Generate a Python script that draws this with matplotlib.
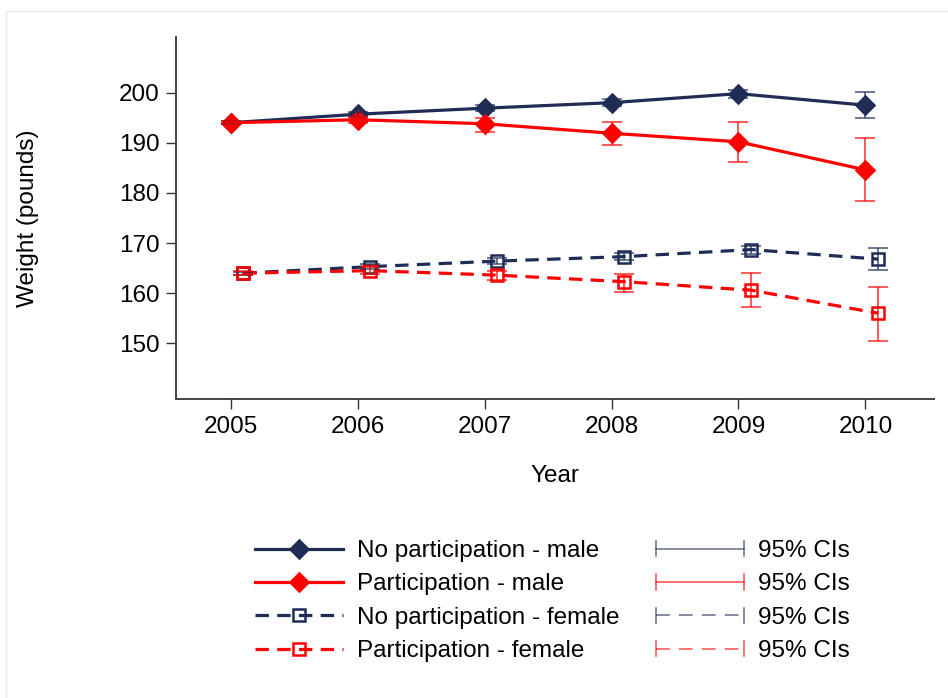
"""
Weight by year: participation vs no participation, male and female, with 95% CIs
"""

import numpy as np
import matplotlib
matplotlib.use("Agg")
import matplotlib.pyplot as plt
from matplotlib.lines import Line2D
from matplotlib.legend_handler import HandlerBase
from matplotlib.patches import Rectangle

# ======================================================
# 1. DATA
# ======================================================
years = [2005, 2006, 2007, 2008, 2009, 2010]
year_ticks = ["2005", "2006", "2007", "2008", "2009", "2010"]
weight_ticks = [150, 160, 170, 180, 190, 200]

male_no = [194.0, 195.7, 196.9, 198.0, 199.8, 197.5]
male_no_lo = [193.7, 195.2, 196.3, 197.3, 199.0, 194.9]
male_no_hi = [194.3, 196.2, 197.5, 198.7, 200.6, 200.1]

male_part = [194.0, 194.6, 193.8, 191.9, 190.2, 184.6]
male_part_lo = [193.7, 194.0, 192.2, 189.5, 186.2, 178.3]
male_part_hi = [194.3, 195.2, 195.0, 194.1, 194.2, 191.0]

female_no = [164.0, 165.3, 166.4, 167.3, 168.7, 166.8]
female_no_lo = [163.7, 164.8, 165.8, 166.6, 167.9, 164.7]
female_no_hi = [164.3, 165.8, 167.0, 168.0, 169.5, 169.1]

female_part = [164.0, 164.5, 163.6, 162.3, 160.6, 156.0]
female_part_lo = [163.6, 163.8, 162.7, 160.2, 157.3, 150.5]
female_part_hi = [164.4, 165.2, 164.5, 163.9, 164.1, 161.3]

series_labels = ["No participation - male", "Participation - male",
                 "No participation - female", "Participation - female"]
ci_label = "95% CIs"

NAVY = "#1f2c56"
RED = "#ff0000"
FEMALE_SHIFT = 0.1  # female points are drawn slightly to the right

plt.rcParams["font.family"] = ["Liberation Sans", "DejaVu Sans"]
FS = 17.5

# ======================================================
# 2. FIGURE
# ======================================================
fig = plt.figure(figsize=(9.48, 6.98), dpi=100)
ax = fig.add_axes([176 / 948, 1 - 399 / 698, (934 - 176) / 948, (399 - 37) / 698])

# faint graph-region outline
fig.add_artist(Rectangle((6 / 948, -0.05), 1.2, 1 - 11 / 698 + 0.05,
                         transform=fig.transFigure, fill=False,
                         edgecolor="#e6e6ea", linewidth=1.0))

x_m = np.array(years, dtype=float)
x_f = x_m + FEMALE_SHIFT

series = [
    (x_m, male_no, male_no_lo, male_no_hi, NAVY, "-", "D", NAVY),
    (x_m, male_part, male_part_lo, male_part_hi, RED, "-", "D", RED),
    (x_f, female_no, female_no_lo, female_no_hi, NAVY, "--", "s", "none"),
    (x_f, female_part, female_part_lo, female_part_hi, RED, "--", "s", "none"),
]

handles = []
for (x, y, lo, hi, col, ls, mk, fc), lab in zip(series, series_labels):
    y = np.array(y)
    ms = 9 if mk == "D" else 8
    kw = dict(dashes=(4.2, 2.6)) if ls == "--" else {}
    line, = ax.plot(x, y, color=col, lw=2.3, linestyle=ls, marker=mk,
                    markersize=ms, markerfacecolor=fc, markeredgecolor=col,
                    markeredgewidth=1.8, zorder=2, label=lab, **kw)
    ax.errorbar(x, y, yerr=[y - np.array(lo), np.array(hi) - y], fmt="none",
                ecolor=col, alpha=0.7, elinewidth=1.3, capsize=7.5,
                capthick=1.3, zorder=3)
    handles.append(line)

# ======================================================
# 3. AXES STYLE
# ======================================================
ax.set_xlim(2004.57, 2010.54)
ax.set_ylim(138.9, 211.1)
ax.set_xticks(years)
ax.set_xticklabels(year_ticks)
ax.set_yticks(weight_ticks)
ax.tick_params(labelsize=FS, length=7, width=1.0, color="#333333", pad=5)
for s in ["top", "right"]:
    ax.spines[s].set_visible(False)
for s in ["left", "bottom"]:
    ax.spines[s].set_color("#444444")
    ax.spines[s].set_linewidth(1.4)

ax.set_xlabel("Year", fontsize=FS, labelpad=20)
ax.set_ylabel("Weight (pounds)", fontsize=FS, labelpad=57)

# ======================================================
# 4. LEGEND (series on the left, CI keys on the right)
# ======================================================
class CIHandle:
    def __init__(self, color, ls):
        self.color = color
        self.ls = ls


class HandlerCI(HandlerBase):
    def create_artists(self, legend, orig, xdescent, ydescent, width, height,
                       fontsize, trans):
        yc = height / 2 - ydescent
        cap = 5.5
        kw = dict(color=orig.color, alpha=0.7, lw=1.1, transform=trans)
        main = Line2D([-xdescent, width - xdescent], [yc, yc], **kw)
        if orig.ls == "--":
            main.set_dashes((9, 6))
        c1 = Line2D([-xdescent, -xdescent], [yc - cap, yc + cap], **kw)
        c2 = Line2D([width - xdescent] * 2, [yc - cap, yc + cap], **kw)
        return [main, c1, c2]


ci_handles = [CIHandle(NAVY, "-"), CIHandle(RED, "-"),
              CIHandle(NAVY, "--"), CIHandle(RED, "--")]

fig.legend(handles + ci_handles, series_labels + [ci_label] * 4,
           handler_map={CIHandle: HandlerCI()},
           ncol=2, loc="upper left", bbox_to_anchor=(255 / 948, 1 - 540 / 698),
           frameon=False, fontsize=FS, borderpad=0, borderaxespad=0,
           handlelength=3.6, handletextpad=0.6, columnspacing=1.5,
           labelspacing=0.47, numpoints=1)

plt.savefig("out.png", dpi=100)
